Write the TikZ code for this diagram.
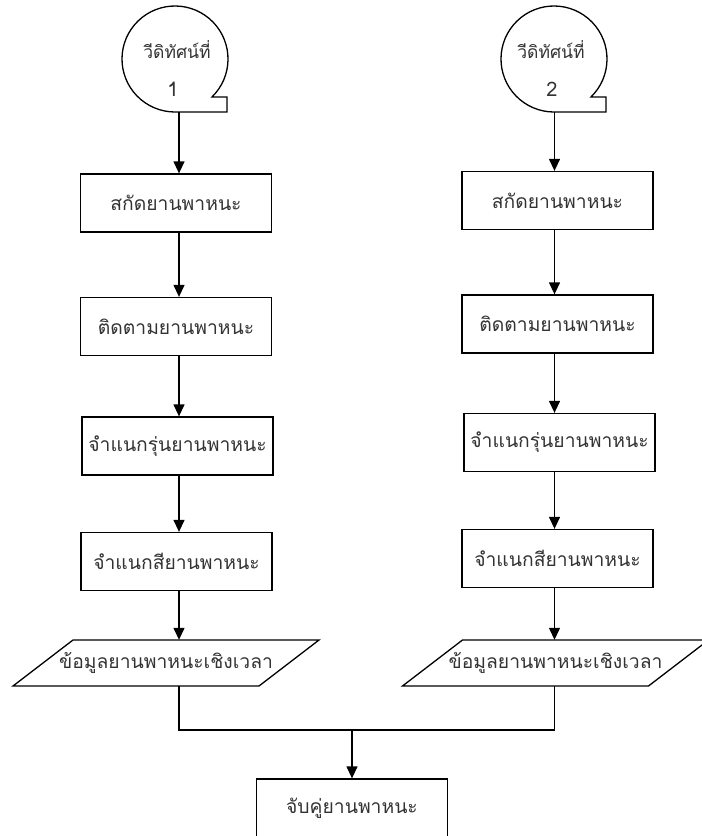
\documentclass[tikz,border=0pt]{standalone}
\usepackage{fontspec}
\newfontfamily\thaifont[Script=Thai]{Loma}
\usetikzlibrary{arrows.meta,calc}
\begin{document}
\begin{tikzpicture}[x=1pt,y=1pt,
  thai/.style={font=\thaifont\fontsize{19.3}{23}\selectfont, text=black!80},
  ringtext/.style={font=\thaifont\fontsize{17.5}{21}\selectfont, text=black!80},
  ringnum/.style={font=\thaifont\fontsize{20}{24}\selectfont, text=black!80},
  outline/.style={draw=black, line width=1.3pt, line join=miter},
  procbox/.style={thai, draw=black, line width=1.3pt, minimum width=191pt,
    minimum height=58pt, inner sep=0pt},
  databox/.style={thai, minimum width=246pt, minimum height=46pt, inner sep=0pt},
  ring/.style={circle, minimum size=106pt, inner sep=0pt},
  arr/.style={line width=1.3pt, -{Triangle[length=12pt,width=11pt]}}]
\useasboundingbox (0,0) rectangle (702,-836);
\clip (0,0) rectangle (702,-836);

% column guides for the vertical connectors
\coordinate (L) at (179,0);
\coordinate (R) at (554.5,0);
\coordinate (J) at (352,-730);

% tape-style start symbols
\node[ring] (c1) at (175,-59) {};
\node[ring] (c2) at (554,-59) {};
\foreach \c in {c1,c2}{
  \draw[outline] ($(\c.center)+(-45.8:53pt)$) arc[start angle=-45.8, end angle=270, radius=53pt]
    -- ($(\c.center)+(52,-53)$) -- ($(\c.center)+(52,-38)$) -- cycle;
}
\node[ringtext] (c1t) at (177,-50) {วีดิทัศน์ที่};
\node[ringnum] (c1n) at (173,-89) {1};
\node[ringtext] (c2t) at (551,-50) {วีดิทัศน์ที่};
\node[ringnum] (c2n) at (552,-89) {2};

% left chain
\node[procbox] (a1) at (176,-203) {สกัดยานพาหนะ};
\node[procbox] (a2) at (176,-326.5) {ติดตามยานพาหนะ};
\node[procbox] (a3) at (177.5,-446) {จำแนกรุ่นยานพาหนะ};
\node[procbox] (a4) at (176.5,-561.5) {จำแนกสียานพาหนะ};
\node[databox] (p1) at (166,-663) {ข้อมูลยานพาหนะเชิงเวลา};
\draw[outline] ($(p1.center)+(-93,23)$) -- ($(p1.center)+(153,23)$)
  -- ($(p1.center)+(93,-23)$) -- ($(p1.center)+(-153,-23)$) -- cycle;

% right chain
\node[procbox] (b1) at (557.5,-200.5) {สกัดยานพาหนะ};
\node[procbox] (b2) at (557.5,-324) {ติดตามยานพาหนะ};
\node[procbox] (b3) at (559.5,-442.5) {จำแนกรุ่นยานพาหนะ};
\node[procbox] (b4) at (557.5,-558.5) {จำแนกสียานพาหนะ};
\node[databox] (p2) at (555.5,-663) {ข้อมูลยานพาหนะเชิงเวลา};
\draw[outline] ($(p2.center)+(-93,23)$) -- ($(p2.center)+(153,23)$)
  -- ($(p2.center)+(93,-23)$) -- ($(p2.center)+(-153,-23)$) -- cycle;

% final step
\node[procbox] (f) at (352,-808) {จับคู่ยานพาหนะ};

% connectors
\draw[arr] (c1.south -| L) -- (a1.north -| L);
\draw[arr] (a1.south -| L) -- (a2.north -| L);
\draw[arr] (a2.south -| L) -- (a3.north -| L);
\draw[arr] (a3.south -| L) -- (a4.north -| L);
\draw[arr] (a4.south -| L) -- (p1.north -| L);

\draw[arr] (c2.south -| R) -- (b1.north -| R);
\draw[arr] (b1.south -| R) -- (b2.north -| R);
\draw[arr] (b2.south -| R) -- (b3.north -| R);
\draw[arr] (b3.south -| R) -- (b4.north -| R);
\draw[arr] (b4.south -| R) -- (p2.north -| R);

\draw[outline] (p1.south -| L) |- (J) -| (p2.south -| R);
\draw[arr] (J) -- (f.north);
\end{tikzpicture}
\end{document}
